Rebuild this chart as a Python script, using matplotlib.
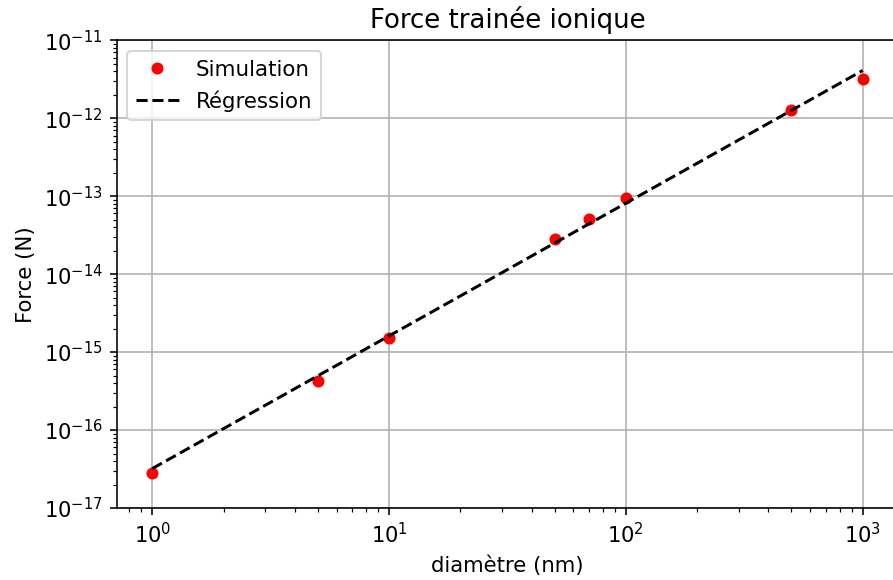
import matplotlib
matplotlib.use("Agg")
import matplotlib.pyplot as plt

# Data
diametre_nm = [1, 5, 10, 50, 70, 100, 500, 1000]
force_sim = [2.79e-17, 4.26e-16, 1.52e-15, 2.80e-14, 5.06e-14, 9.40e-14, 1.28e-12, 3.22e-12]
reg_x = [1, 1000]
reg_y = [3.2e-17, 4.1e-12]

title = "Force trainée ionique"
xlabel = "diamètre (nm)"
ylabel = "Force (N)"

DPI = 144
fig = plt.figure(figsize=(893 / DPI, 580 / DPI), dpi=DPI)
ax = fig.add_axes([116.7 / 893, (580 - 508) / 580, (898.2 - 116.7) / 893, (508 - 40.3) / 580])

ax.plot(diametre_nm, force_sim, 'o', color='red', markersize=5, label='Simulation')
ax.plot(reg_x, reg_y, '--', color='black', linewidth=1.5, label='Régression')

ax.set_xscale('log')
ax.set_yscale('log')
ax.set_ylim(1e-17, 1e-11)
ax.grid(True)
ax.tick_params(axis='both', which='major', labelsize=10.5)
ax.set_title(title, fontsize=13)
ax.set_xlabel(xlabel, fontsize=10.6)
ax.set_ylabel(ylabel, fontsize=10.6)
ax.legend(loc='upper left', fontsize=10.7)

fig.savefig('out.png', dpi=DPI)
